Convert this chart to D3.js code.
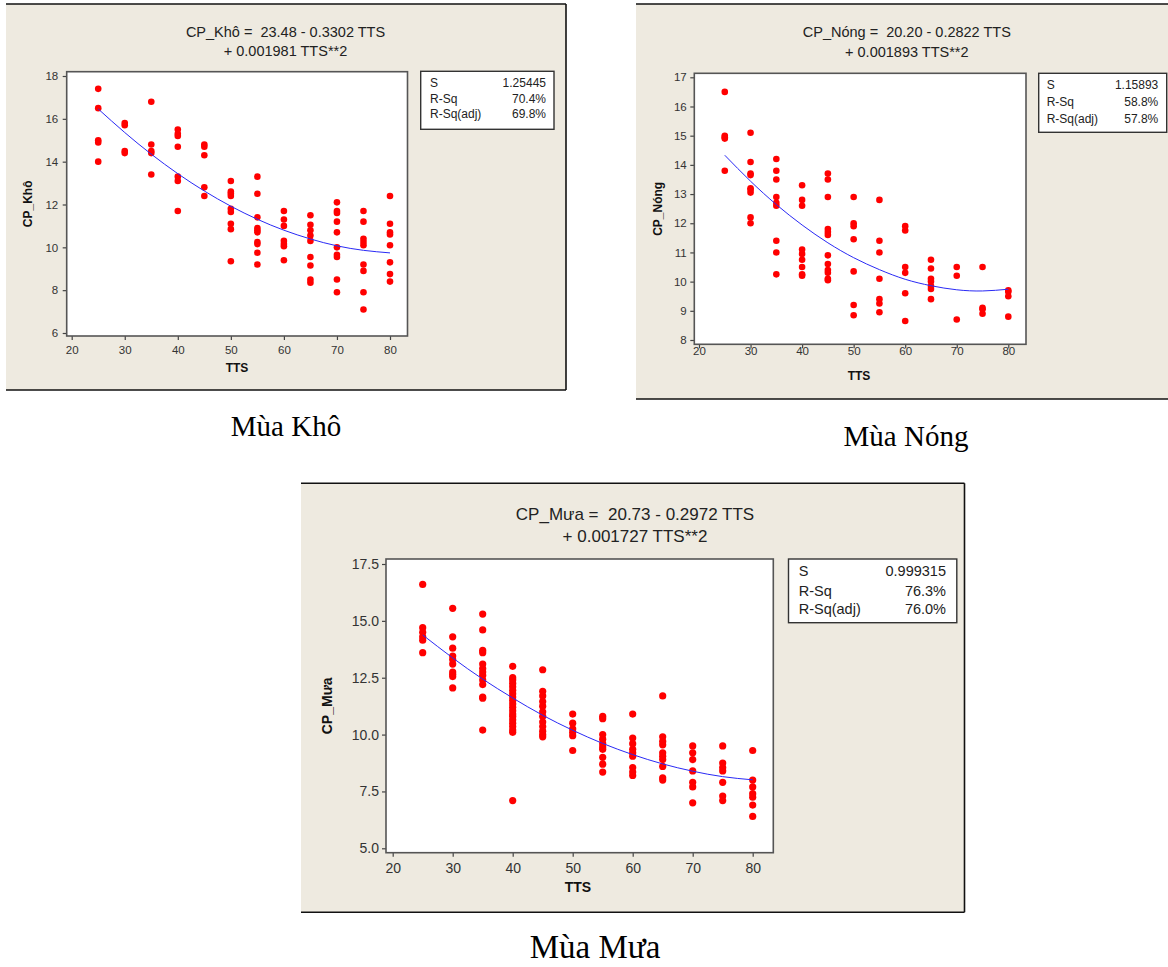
<!DOCTYPE html>
<html>
<head>
<meta charset="utf-8">
<script src="https://cdn.jsdelivr.net/npm/d3@7"></script>
<style>
  body { margin: 0; background: #fff; }
  svg { display: block; font-family: "Liberation Sans", Arial, sans-serif; }
</style>
</head>
<body>
<div id="chart"></div>
<script>
// TTS groups shared by the three seasons
const tts = [25, 30, 35, 40, 45, 50, 55, 60, 65, 70, 75, 80];
const xTicks = [20, 30, 40, 50, 60, 70, 80];
const statLabels = ["S", "R-Sq", "R-Sq(adj)"];

// Mùa Khô
const khoCP = [
  [17.4, 16.5, 15.0, 14.9, 14.0],
  [15.8, 15.7, 14.5, 14.4],
  [16.8, 14.8, 14.5, 14.4, 13.4],
  [15.5, 15.3, 15.2, 14.7, 13.3, 13.1, 11.7],
  [14.8, 14.7, 14.3, 12.8, 12.4],
  [13.1, 12.6, 12.5, 12.4, 11.8, 11.65, 11.1, 10.85, 9.35],
  [13.3, 12.5, 11.4, 10.9, 10.8, 10.7, 10.25, 10.15, 9.75, 9.2],
  [11.7, 11.3, 11.0, 10.3, 10.15, 10.05, 9.4],
  [11.5, 11.05, 10.8, 10.55, 10.3, 9.55, 9.15, 8.5, 8.35],
  [12.1, 11.7, 11.6, 11.2, 10.7, 10.0, 9.65, 9.55, 8.5, 7.9],
  [11.7, 11.2, 10.4, 10.25, 10.1, 9.2, 8.9, 7.9, 7.1],
  [12.4, 11.1, 10.7, 10.6, 10.1, 9.3, 8.75, 8.4]
];
const khoFit = [16.46, 15.36, 14.35, 13.44, 12.63, 11.92, 11.31, 10.80, 10.39, 10.07, 9.86, 9.74];
const khoStats = ["1.25445", "70.4%", "69.8%"];
const khoYTicks = [6, 8, 10, 12, 14, 16, 18];

// Mùa Nóng
const nongCP = [
  [16.5, 15.0, 14.95, 14.9, 13.8],
  [15.1, 14.1, 13.7, 13.65, 13.2, 13.15, 13.05, 12.2, 12.0],
  [14.2, 13.8, 13.5, 12.9, 12.7, 12.6, 11.4, 11.0, 10.25],
  [13.3, 12.8, 12.6, 11.1, 10.95, 10.75, 10.5, 10.25, 10.2],
  [13.7, 13.5, 12.9, 11.8, 11.7, 11.6, 10.9, 10.6, 10.4, 10.3, 10.1, 10.05],
  [12.9, 12.0, 11.9, 11.45, 10.35, 9.2, 8.85],
  [12.8, 11.4, 11.0, 10.1, 9.4, 9.25, 8.95],
  [11.9, 11.75, 10.5, 10.3, 9.6, 8.65],
  [10.75, 10.45, 10.1, 10.0, 9.85, 9.75, 9.4],
  [10.5, 10.2, 8.7],
  [10.5, 9.1, 9.05, 8.9],
  [9.7, 9.65, 9.5, 8.8]
];
const nongFit = [14.33, 13.44, 12.64, 11.94, 11.33, 10.82, 10.41, 10.08, 9.86, 9.72, 9.68, 9.74];
const nongStats = ["1.15893", "58.8%", "57.8%"];
const nongYTicks = [8, 9, 10, 11, 12, 13, 14, 15, 16, 17];

// Mùa Mưa
const muaCP = [
  [16.6, 14.7, 14.5, 14.3, 14.15, 13.6],
  [15.55, 14.3, 13.8, 13.45, 13.3, 13.1, 12.75, 12.65, 12.55, 12.05],
  [15.3, 14.6, 13.7, 13.6, 13.1, 12.9, 12.75, 12.6, 12.4, 12.2, 11.65, 11.6, 10.2],
  [13.0, 12.5, 12.4, 12.25, 12.1, 11.95, 11.8, 11.65, 11.5, 11.35, 11.2, 11.05, 10.9, 10.8, 10.65, 10.5, 10.35, 10.2, 10.1, 7.1],
  [12.85, 11.9, 11.7, 11.45, 11.25, 11.0, 10.8, 10.55, 10.35, 10.15, 10.0, 9.9],
  [10.9, 10.5, 10.25, 10.1, 9.95, 9.3],
  [10.8, 10.7, 10.0, 9.8, 9.6, 9.45, 9.35, 9.0, 8.7, 8.35],
  [10.9, 9.85, 9.6, 9.35, 9.2, 9.05, 8.55, 8.35, 8.2],
  [11.7, 9.9, 9.7, 9.55, 9.2, 9.05, 8.9, 8.6, 8.1, 8.0],
  [9.5, 9.2, 8.9, 8.4, 7.9, 7.7, 7.0],
  [9.5, 8.75, 8.55, 8.4, 7.9, 7.3, 7.1],
  [9.3, 8.0, 7.7, 7.4, 7.25, 6.9, 6.4]
];
const muaFit = [14.38, 13.37, 12.44, 11.61, 10.85, 10.19, 9.61, 9.12, 8.71, 8.39, 8.15, 8.01];
const muaStats = ["0.999315", "76.3%", "76.0%"];
const muaYTicks = [5, 7.5, 10, 12.5, 15, 17.5];

// layout for each panel
const panels = [
  {
    cp: khoCP, fit: khoFit, stats: khoStats, yTicks: khoYTicks, yFmt: d3.format("d"),
    eq: ["CP_Khô =\u00a0\u00a023.48 - 0.3302 TTS", "+ 0.001981 TTS**2"], ylab: "CP_Khô", caption: "Mùa Khô",
    frame: { x0: 6, x1: 566, y0: 4, y1: 390, right: true },
    plot: { x0: 66.7, y0: 71.7, x1: 407.5, y1: 336 },
    xr: [71.7, 390], yd: [6, 18], yr: [333, 76],
    title: { x: 285.5, y: [36.5, 56], size: 14.5 },
    legend: { x0: 420.7, y0: 71.3, x1: 554, y1: 129.3, t0: 430, t1: 546, rows: [87.3, 102.7, 118], size: 12 },
    tick: 11.5, xBase: 354.3, yPad: 4.5,
    xl: { x: 237, y: 371.7, size: 12 }, yl: { x: 32, size: 12 }, r: 3.3,
    cap: { x: 286, y: 436, size: 29 }
  },
  {
    cp: nongCP, fit: nongFit, stats: nongStats, yTicks: nongYTicks, yFmt: d3.format("d"),
    eq: ["CP_Nóng =\u00a0\u00a020.20 - 0.2822 TTS", "+ 0.001893 TTS**2"], ylab: "CP_Nóng", caption: "Mùa Nóng",
    frame: { x0: 636, x1: 1175, y0: 4, y1: 399, right: false },
    plot: { x0: 694.3, y0: 73.3, x1: 1026, y1: 344.3 },
    xr: [699, 1008.3], yd: [8, 17], yr: [340, 77.3],
    title: { x: 906.8, y: [37.3, 56.5], size: 14.5 },
    legend: { x0: 1038.7, y0: 73.3, x1: 1166.7, y1: 132.3, t0: 1046.7, t1: 1158.3, rows: [89.3, 106, 123], size: 12 },
    tick: 11.5, xBase: 355.5, yPad: 3.6,
    xl: { x: 859, y: 380, size: 12 }, yl: { x: 662, size: 12 }, r: 3.3,
    cap: { x: 906, y: 446, size: 29 }
  },
  {
    cp: muaCP, fit: muaFit, stats: muaStats, yTicks: muaYTicks, yFmt: d3.format(".1f"),
    eq: ["CP_Mưa =\u00a0\u00a020.73 - 0.2972 TTS", "+ 0.001727 TTS**2"], ylab: "CP_Mưa", caption: "Mùa Mưa",
    frame: { x0: 301, x1: 964.5, y0: 483.3, y1: 912.3, right: true },
    plot: { x0: 386, y0: 559, x1: 773.3, y1: 852.7 },
    xr: [392.7, 752.7], yd: [5, 17.5], yr: [848.3, 564],
    title: { x: 635, y: [520, 541.5], size: 17 },
    legend: { x0: 788.5, y0: 559, x1: 956.8, y1: 622.7, t0: 798.7, t1: 946, rows: [576, 595.7, 614.3], size: 14.5 },
    tick: 14, xBase: 873, yPad: 3,
    xl: { x: 578, y: 892, size: 14 }, yl: { x: 332, size: 14 }, r: 3.6,
    cap: { x: 595, y: 958, size: 33 }
  }
];

const svg = d3.select("#chart").append("svg")
  .attr("width", 1168)
  .attr("height", 967);

const beige = "#eeeae0";

function drawPanel(p) {
  const g = svg.append("g");
  const f = p.frame;

  g.append("rect")
    .attr("x", f.x0).attr("y", f.y0)
    .attr("width", f.x1 - f.x0).attr("height", f.y1 - f.y0)
    .attr("fill", beige);
  const edges = [[f.x0, f.y0, f.x1, f.y0], [f.x0, f.y1, f.x1, f.y1]];
  if (f.right) edges.push([f.x1, f.y0, f.x1, f.y1]);
  g.selectAll(".edge").data(edges).join("line")
    .attr("x1", d => d[0]).attr("y1", d => d[1])
    .attr("x2", d => d[2]).attr("y2", d => d[3])
    .attr("stroke", "#111").attr("stroke-width", 1.6);

  // equation title
  g.selectAll(".eq").data(p.eq).join("text")
    .attr("x", p.title.x)
    .attr("y", (d, i) => p.title.y[i])
    .attr("text-anchor", "middle")
    .attr("font-size", p.title.size)
    .attr("fill", "#222")
    .text(d => d);

  const pl = p.plot;
  g.append("rect")
    .attr("x", pl.x0).attr("y", pl.y0)
    .attr("width", pl.x1 - pl.x0).attr("height", pl.y1 - pl.y0)
    .attr("fill", "#fff");

  const x = d3.scaleLinear().domain([20, 80]).range(p.xr);
  const y = d3.scaleLinear().domain(p.yd).range(p.yr);

  // axes
  const xa = g.append("g")
    .attr("transform", `translate(0,${pl.y1})`)
    .call(d3.axisBottom(x).tickValues(xTicks).tickSize(4).tickSizeOuter(0));
  xa.select(".domain").remove();
  xa.selectAll("text")
    .attr("y", p.xBase - pl.y1).attr("dy", null)
    .attr("font-size", p.tick).attr("font-family", null).attr("fill", "#333");
  xa.selectAll("line").attr("stroke", "#444").attr("stroke-width", 1.2);

  const ya = g.append("g")
    .attr("transform", `translate(${pl.x0},0)`)
    .call(d3.axisLeft(y).tickValues(p.yTicks).tickFormat(p.yFmt).tickSize(4).tickPadding(p.yPad).tickSizeOuter(0));
  ya.select(".domain").remove();
  ya.selectAll("text")
    .attr("font-size", p.tick).attr("font-family", null).attr("fill", "#333");
  ya.selectAll("line").attr("stroke", "#444").attr("stroke-width", 1.2);

  // points
  const pts = p.cp.flatMap((vals, i) => vals.map(v => ({ t: tts[i], v })));
  g.append("g").selectAll("circle").data(pts).join("circle")
    .attr("cx", d => x(d.t))
    .attr("cy", d => y(d.v))
    .attr("r", p.r)
    .attr("fill", "#ff0000");

  // fitted curve
  const line = d3.line()
    .x((d, i) => x(tts[i]))
    .y(d => y(d))
    .curve(d3.curveNatural);
  g.append("path")
    .attr("d", line(p.fit))
    .attr("fill", "none")
    .attr("stroke", "#2a2af5")
    .attr("stroke-width", 1);

  // plot frame
  g.append("rect")
    .attr("x", pl.x0).attr("y", pl.y0)
    .attr("width", pl.x1 - pl.x0).attr("height", pl.y1 - pl.y0)
    .attr("fill", "none")
    .attr("stroke", "#555").attr("stroke-width", 1.6);

  // axis titles
  g.append("text")
    .attr("x", p.xl.x).attr("y", p.xl.y)
    .attr("text-anchor", "middle")
    .attr("font-size", p.xl.size).attr("font-weight", "bold")
    .attr("fill", "#111")
    .text("TTS");
  const cy = (pl.y0 + pl.y1) / 2;
  g.append("text")
    .attr("transform", `translate(${p.yl.x},${cy}) rotate(-90)`)
    .attr("text-anchor", "middle")
    .attr("font-size", p.yl.size).attr("font-weight", "bold")
    .attr("fill", "#111")
    .text(p.ylab);

  // stats box
  const L = p.legend;
  g.append("rect")
    .attr("x", L.x0).attr("y", L.y0)
    .attr("width", L.x1 - L.x0).attr("height", L.y1 - L.y0)
    .attr("fill", "#fff")
    .attr("stroke", "#333").attr("stroke-width", 1.4);
  g.selectAll(".slab").data(statLabels).join("text")
    .attr("x", L.t0).attr("y", (d, i) => L.rows[i])
    .attr("font-size", L.size).attr("fill", "#222")
    .text(d => d);
  g.selectAll(".sval").data(p.stats).join("text")
    .attr("x", L.t1).attr("y", (d, i) => L.rows[i])
    .attr("text-anchor", "end")
    .attr("font-size", L.size).attr("fill", "#222")
    .text(d => d);

  // season caption
  svg.append("text")
    .attr("x", p.cap.x).attr("y", p.cap.y)
    .attr("text-anchor", "middle")
    .attr("font-family", "'Liberation Serif', 'Times New Roman', serif")
    .attr("font-size", p.cap.size)
    .attr("fill", "#000")
    .text(p.caption);
}

panels.forEach(drawPanel);
</script>
</body>
</html>
